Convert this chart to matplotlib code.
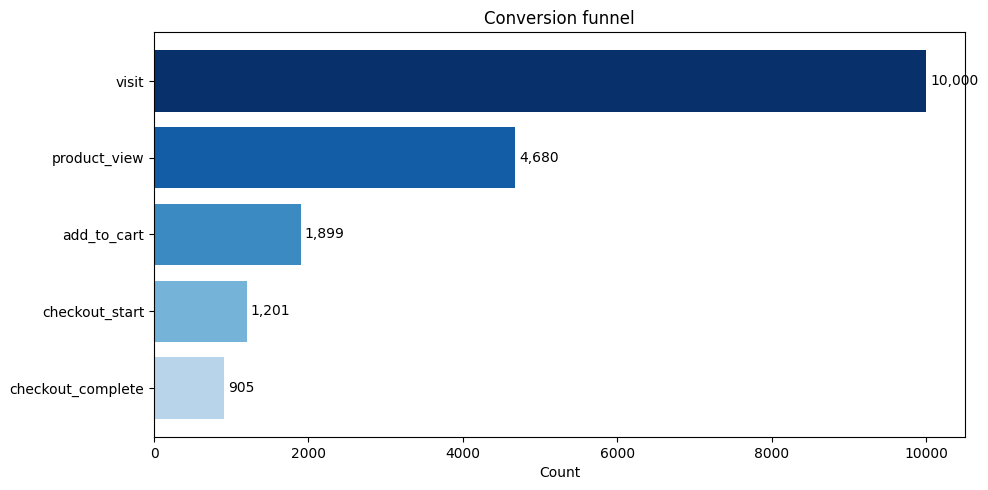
import numpy as np
import matplotlib
matplotlib.use("Agg")
import matplotlib.pyplot as plt

stages = ["visit", "product_view", "add_to_cart", "checkout_start", "checkout_complete"]
counts = [10000, 4680, 1899, 1201, 905]

colors = plt.cm.Blues(np.linspace(1.0, 0.3, len(stages)))

fig, ax = plt.subplots(figsize=(9.88, 4.9), dpi=100)
y = np.arange(len(stages))
ax.barh(y, counts, color=colors)
ax.set_yticks(y)
ax.set_yticklabels(stages)
ax.invert_yaxis()
for yi, c in zip(y, counts):
    ax.text(c + 50, yi, f"{c:,}", va="center", ha="left", fontsize=10)
ax.set_xlabel("Count")
ax.set_title("Conversion funnel")
fig.subplots_adjust(left=0.1559, right=0.9767, top=0.9347, bottom=0.1082)
fig.savefig("out.png")
